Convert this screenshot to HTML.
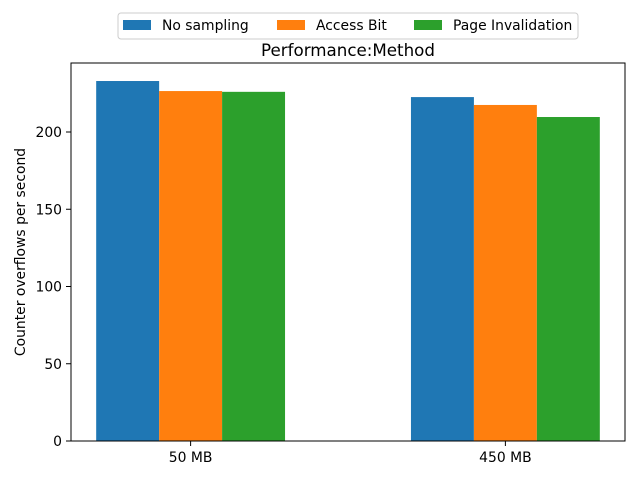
<!DOCTYPE html>
<html><head><meta charset="utf-8"><style>
body{margin:0;background:#fff;font-family:"Liberation Sans","DejaVu Sans",sans-serif}
svg text{font-family:"DejaVu Sans","Liberation Sans",sans-serif}
</style></head><body>
<svg id="chart" width="640" height="480" xmlns="http://www.w3.org/2000/svg">
<rect width="640" height="480" fill="#fff"/>
<g id="bars"></g>
<rect x="71" y="63" width="554" height="378" fill="none" stroke="#000" stroke-width="1"/>
<g id="axes"></g>
<text x="348" y="56" font-size="16.7" text-anchor="middle">Performance:Method</text>
<text transform="translate(25,252) rotate(-90)" font-size="13.9" text-anchor="middle">Counter overflows per second</text>
<g>
<rect x="118" y="13" width="460" height="26" rx="3" fill="#fff" stroke="#ccc"/>
<g><rect x="123" y="20" width="28" height="10" fill="#1f77b4"/><text x="162" y="30" font-size="13.9">No sampling</text></g>
<g><rect x="277" y="20" width="28" height="10" fill="#ff7f0e"/><text x="316" y="30" font-size="13.9">Access Bit</text></g>
<g><rect x="414" y="20" width="28" height="10" fill="#2ca02c"/><text x="453" y="30" font-size="13.9">Page Invalidation</text></g>
</g>
</svg>
<script>
const categories=["50 MB","450 MB"];
const noSampling=[233,222.6];
const accessBit=[226.5,217.5];
const pageInvalidation=[226,209.7];
const yTicks=[0,50,100,150,200];
const seriesNames=["no-sampling","access-bit","page-invalidation"];
const colors=["#1f77b4","#ff7f0e","#2ca02c"];
const NS="http://www.w3.org/2000/svg";
const x=v=>71+(v+0.38)*554/1.76;
const y=v=>441-v*(441-132)/200;
const bars=document.getElementById('bars'),axes=document.getElementById('axes');
[noSampling,accessBit,pageInvalidation].forEach((s,si)=>{
 s.forEach((v,i)=>{
  const r=document.createElementNS(NS,'rect');
  const cx=x(i+(si-1)*0.2);
  r.setAttribute('x',cx-0.1*554/1.76);r.setAttribute('width',0.2*554/1.76);
  r.setAttribute('y',y(v));r.setAttribute('height',y(0)-y(v));r.setAttribute('fill',colors[si]);
  
  
  bars.appendChild(r);
 });
});
yTicks.forEach(t=>{
 const l=document.createElementNS(NS,'line');
 l.setAttribute('x1',66);l.setAttribute('x2',71);l.setAttribute('y1',y(t));l.setAttribute('y2',y(t));l.setAttribute('stroke','#000');
 
 
 axes.appendChild(l);
 const tx=document.createElementNS(NS,'text');
 tx.setAttribute('x',62);tx.setAttribute('y',y(t)+5);tx.setAttribute('text-anchor','end');tx.setAttribute('font-size','13.9');
 tx.textContent=t;
 
 
 axes.appendChild(tx);
});
categories.forEach((c,i)=>{
 const l=document.createElementNS(NS,'line');
 l.setAttribute('x1',x(i));l.setAttribute('x2',x(i));l.setAttribute('y1',441);l.setAttribute('y2',446);l.setAttribute('stroke','#000');
 
 
 axes.appendChild(l);
 const tx=document.createElementNS(NS,'text');
 tx.setAttribute('x',x(i));tx.setAttribute('y',462);tx.setAttribute('text-anchor','middle');tx.setAttribute('font-size','13.9');
 tx.textContent=c;
 
 
 axes.appendChild(tx);
});
</script>
</body></html>
